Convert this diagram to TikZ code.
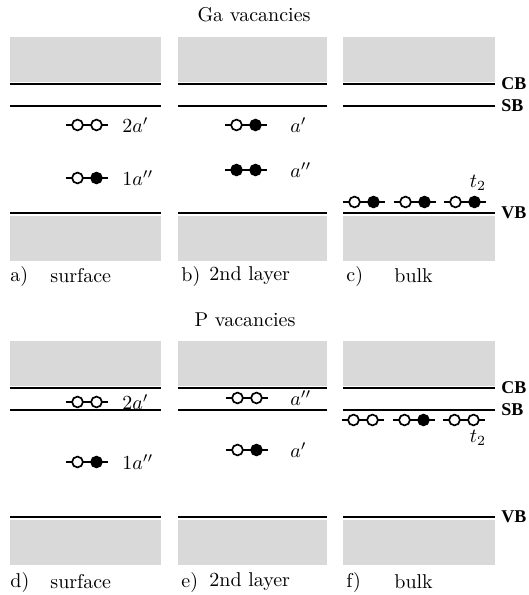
\documentclass[tikz,border=0pt]{standalone}
\usepackage{fontspec}
\newfontfamily\bandfont{Liberation Serif}
\begin{document}
\begin{tikzpicture}[x=0.5pt,y=-0.5pt,
  band/.style={fill=black!15,draw=none},
  lvl/.style={line width=1pt},
  pline/.style={line width=0.85pt},
  circ/.style={draw=black,line width=0.85pt},
  blab/.style={anchor=west,font=\bandfont\fontsize{9}{10}\selectfont\bfseries,inner sep=0pt},
  mlab/.style={anchor=west,inner sep=0pt},
  plab/.style={anchor=west,inner sep=0pt},
  ttl/.style={inner sep=0pt}]
\useasboundingbox (0,0) rectangle (529,595);
\newcommand\orb[4]{%
  \draw[pline] (#1-21,#2) -- (#1+21,#2);
  \filldraw[circ,fill=#3] (#1-9.5,#2) circle[radius=2.7pt];
  \filldraw[circ,fill=#4] (#1+9.5,#2) circle[radius=2.7pt];}
% ---------------- Ga vacancies ----------------
\node[ttl] (tga) at (254,15) {Ga vacancies};
\foreach \xa/\xb in {10/161,178/327,343/495}{
  \fill[band] (\xa,37) rectangle (\xb,82);
  \fill[band] (\xa,216) rectangle (\xb,261);
  \draw[lvl] (\xa,84) -- (\xb,84);
  \draw[lvl] (\xa,106) -- (\xb,106);
  \draw[lvl] (\xa,213) -- (\xb,213);
}
\node[blab] (cb1) at (501,84) {CB};
\node[blab] (sb1) at (501,106) {SB};
\node[blab] (vb1) at (501,213) {VB};
% a)
\orb{87}{125}{white}{white}
\orb{87}{178}{white}{black}
\node[mlab] (la1) at (122,125) {$2a'$};
\node[mlab] (la2) at (122,178) {$1a''$};
% b)
\orb{246}{125}{white}{black}
\orb{246}{170}{black}{black}
\node[mlab] (lb1) at (290,125) {$a'$};
\node[mlab] (lb2) at (290,170) {$a''$};
% c)
\orb{364}{202}{white}{black}
\orb{415}{202}{white}{black}
\orb{465}{202}{white}{black}
\node (lc) at (478,183) {$t_2$};
\node[plab] (pa) at (10,276) {a)};
\node[plab] (pa2) at (50,276) {surface};
\node[plab] (pb) at (181,276) {b)};
\node[plab] (pb2) at (209,276) {2nd layer};
\node[plab] (pc) at (346,276) {c)};
\node[plab] (pc2) at (394,276) {bulk};
% ---------------- P vacancies ----------------
\node[ttl] (tp) at (245,320) {P vacancies};
\foreach \xa/\xb in {10/161,178/327,343/495}{
  \fill[band] (\xa,341) rectangle (\xb,386);
  \fill[band] (\xa,520) rectangle (\xb,565);
  \draw[lvl] (\xa,388) -- (\xb,388);
  \draw[lvl] (\xa,410) -- (\xb,410);
  \draw[lvl] (\xa,517) -- (\xb,517);
}
\node[blab] (cb2) at (501,388) {CB};
\node[blab] (sb2) at (501,410) {SB};
\node[blab] (vb2) at (501,517) {VB};
% d)
\orb{87}{402}{white}{white}
\orb{87}{462}{white}{black}
\node[mlab] (ld1) at (122,402) {$2a'$};
\node[mlab] (ld2) at (122,462) {$1a''$};
% e)
\orb{247}{398}{white}{white}
\orb{247}{450}{white}{black}
\node[mlab] (le1) at (290,398) {$a''$};
\node[mlab] (le2) at (290,450) {$a'$};
% f)
\orb{363}{420}{white}{white}
\orb{414}{420}{white}{black}
\orb{464}{420}{white}{white}
\node (lf) at (478,438) {$t_2$};
\node[plab] (pd) at (10,582) {d)};
\node[plab] (pd2) at (50,582) {surface};
\node[plab] (pe) at (181,582) {e)};
\node[plab] (pe2) at (209,582) {2nd layer};
\node[plab] (pf) at (346,582) {f)};
\node[plab] (pf2) at (394,582) {bulk};
\end{tikzpicture}
\end{document}
